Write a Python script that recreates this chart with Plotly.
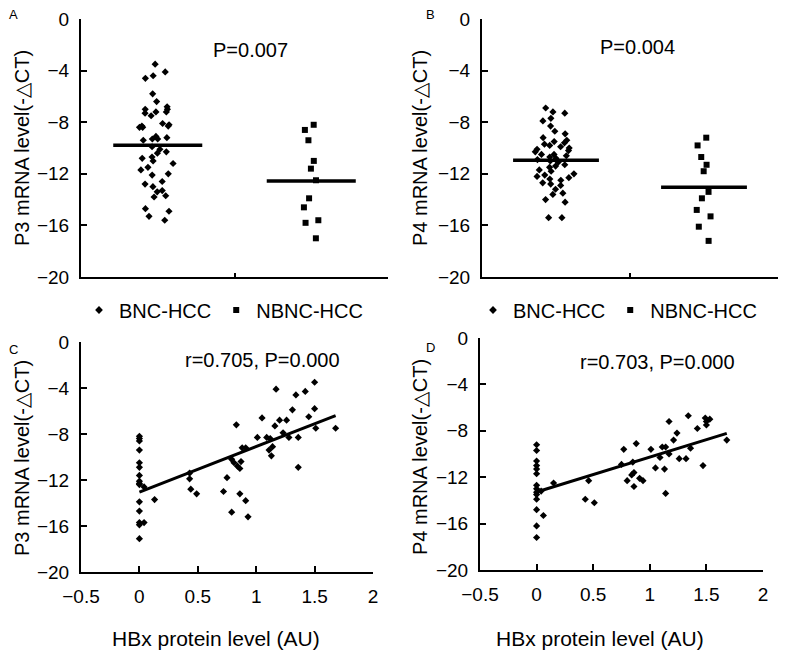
import numpy as np
import plotly.graph_objects as go

# panel A / B: -dCT values per group
p3_bnc = [-3.5, -4.1, -4.4, -4.6, -5.8, -6.4, -6.8, -7.0, -7.0, -7.2, -7.2, -7.3, -7.5,
          -8.1, -8.2, -8.3, -8.3, -8.4, -8.4, -9.1, -9.2, -9.3, -9.3, -9.4, -9.9, -10.1,
          -10.3, -10.4, -10.7, -10.8, -11.0, -11.2, -11.5, -11.7, -12.0, -12.1, -12.6,
          -12.8, -13.0, -13.3, -13.4, -13.7, -13.8, -14.7, -14.9, -15.3, -15.6]
p3_nbnc = [-8.2, -8.6, -9.4, -11.0, -11.6, -12.5, -13.9, -14.6, -15.6, -15.8, -17.0]
p4_bnc = [-6.9, -7.2, -7.3, -7.7, -7.9, -8.3, -8.7, -8.9, -9.2, -9.4, -9.5, -9.6, -9.7,
          -9.8, -9.9, -10.0, -10.1, -10.2, -10.3, -10.5, -10.5, -10.6, -10.7, -10.8, -10.9,
          -11.0, -11.1, -11.3, -11.4, -11.5, -11.7, -11.8, -12.0, -12.1, -12.2, -12.3,
          -12.4, -12.5, -12.7, -12.8, -12.9, -13.2, -13.5, -13.6, -14.0, -14.2, -15.4, -15.4]
p4_nbnc = [-9.2, -9.8, -10.7, -11.3, -11.8, -13.4, -13.9, -14.8, -15.3, -16.1, -17.2]

# panel C: HBx protein vs P3
hbx_c = [0, 0, 0, 0, 0, 0, 0, 0, 0, 0, 0.04, 0, 0, 0, 0.04, 0, 0,
         0.13, 0.43, 0.43, 0.44, 0.49, 0.72, 0.75, 0.79, 0.83, 0.79, 0.81, 0.84, 0.86,
         0.87, 0.86, 0.91, 0.93, 0.88, 0.91, 1.01, 1.05, 1.09, 1.12, 1.11, 1.13, 1.14,
         1.16, 1.17, 1.2, 1.23, 1.26, 1.28, 1.31, 1.34, 1.36, 1.36, 1.42, 1.45, 1.5,
         1.5, 1.51, 1.68]
p3_c = [-8.2, -8.4, -8.6, -9.4, -10.5, -10.9, -11.6, -12.1, -12.3, -12.4, -12.6, -13.9,
        -14.7, -15.7, -15.7, -15.9, -17.1,
        -13.7, -11.4, -11.9, -12.8, -13.2, -13.0, -11.8, -14.8, -7.2, -10.2, -10.5, -10.8,
        -11.0, -10.4, -13.2, -13.8, -15.2, -9.2, -9.2, -8.3, -6.6, -8.3, -8.4, -9.4, -9.9,
        -9.1, -7.3, -4.1, -6.8, -7.9, -6.8, -8.3, -5.9, -4.6, -8.3, -10.9, -4.3, -6.5,
        -3.5, -5.8, -7.5, -7.5]

# panel D: HBx protein vs P4
hbx_d = [0, 0, 0, 0, 0, 0, 0, 0.04, 0, 0, 0, 0, 0, 0.06, 0, 0,
         0.15, 0.46, 0.43, 0.51, 0.75, 0.77, 0.80, 0.84, 0.85, 0.86, 0.88, 0.86, 0.91,
         0.94, 1.01, 1.05, 1.09, 1.11, 1.13, 1.14, 1.14, 1.17, 1.17, 1.21, 1.24, 1.26,
         1.32, 1.34, 1.36, 1.42, 1.47, 1.49, 1.5, 1.53, 1.5, 1.68]
p4_d = [-9.2, -9.7, -10.6, -11.0, -11.3, -11.7, -12.7, -13.2, -13.0, -13.3, -13.5, -13.9,
        -14.8, -15.3, -16.2, -17.2,
        -12.5, -12.3, -13.9, -14.2, -10.9, -9.6, -12.3, -11.8, -10.7, -12.8, -9.1, -11.6,
        -12.1, -12.3, -9.6, -11.2, -10.3, -9.4, -11.3, -13.4, -9.4, -7.2, -10.0, -8.8,
        -8.2, -10.4, -10.4, -6.7, -9.5, -7.8, -11.0, -6.9, -7.2, -7.0, -7.5, -8.8]

FONT = "Arial, Liberation Sans, sans-serif"
BLACK = "black"
W, H = 800, 657
OFF = 8  # page body margin in the browser


def fx(px):
    return (px - OFF) / W


def fy(py):
    return 1 - (py - OFF) / H


fig = go.Figure()


def dots(vals, pos, sym, size, width, xa, ya):
    fig.add_trace(go.Box(
        y=vals, x0=pos, width=width, boxpoints="all", jitter=1, pointpos=0,
        marker=dict(symbol=sym, size=size, color=BLACK),
        line=dict(color="rgba(0,0,0,0)", width=0), fillcolor="rgba(0,0,0,0)",
        whiskerwidth=0, showlegend=False, xaxis=xa, yaxis=ya))
    m = float(np.mean(vals))
    fig.add_trace(go.Scatter(
        x=[pos - 0.29, pos + 0.29], y=[m, m], mode="lines",
        line=dict(color=BLACK, width=3.5), showlegend=False, xaxis=xa, yaxis=ya))


dots(p3_bnc, 0.5, "diamond", 5.5, 0.3, "x", "y")
dots(p3_nbnc, 1.5, "square", 6, 0.12, "x", "y")
dots(p4_bnc, 0.5, "diamond", 5.5, 0.3, "x2", "y2")
dots(p4_nbnc, 1.5, "square", 6, 0.12, "x2", "y2")

# legend-only entries
for lg in ["legend", "legend2"]:
    fig.add_trace(go.Scatter(x=[None], y=[None], mode="markers", name="BNC-HCC",
                             marker=dict(symbol="diamond", size=6, color=BLACK), legend=lg))
    fig.add_trace(go.Scatter(x=[None], y=[None], mode="markers", name="NBNC-HCC",
                             marker=dict(symbol="square", size=6, color=BLACK), legend=lg))


def corr(hx, vals, xa, ya):
    fig.add_trace(go.Scatter(x=hx, y=vals, mode="markers",
                             marker=dict(symbol="diamond", size=5.5, color=BLACK),
                             showlegend=False, xaxis=xa, yaxis=ya))
    k, b = np.polyfit(hx, vals, 1)
    xs = [0, max(hx)]
    fig.add_trace(go.Scatter(x=xs, y=[k * v + b for v in xs], mode="lines",
                             line=dict(color=BLACK, width=3), showlegend=False,
                             xaxis=xa, yaxis=ya))


corr(hbx_c, p3_c, "x3", "y3")
corr(hbx_d, p4_d, "x4", "y4")

yax = dict(range=[-20, 0], dtick=4, showline=True, linecolor=BLACK, linewidth=2,
           ticks="inside", ticklen=6, tickwidth=2, tickcolor=BLACK, showgrid=False,
           zeroline=False, tickfont=dict(size=19, color=BLACK), ticklabelstandoff=6,
           automargin=False)
xcat = dict(range=[0, 2], tickvals=[1, 2], showticklabels=False, showline=True,
            linecolor=BLACK, linewidth=2, ticks="inside", ticklen=4, tickwidth=2,
            tickcolor=BLACK, showgrid=False, zeroline=False, automargin=False)
xnum = dict(range=[-0.5, 2], dtick=0.5, showline=True, linecolor=BLACK, linewidth=2,
            ticks="inside", ticklen=6, tickwidth=2, tickcolor=BLACK, showgrid=False,
            zeroline=False, tickfont=dict(size=19, color=BLACK), ticklabelstandoff=6,
            automargin=False)

fig.update_layout(
    width=W, height=H, margin=dict(l=0, r=0, t=0, b=0, autoexpand=False),
    paper_bgcolor="white", plot_bgcolor="white",
    font=dict(family=FONT, color=BLACK),
    xaxis=dict(xcat, domain=[fx(81), fx(388)], anchor="y"),
    yaxis=dict(yax, domain=[fy(277), fy(19)], anchor="x"),
    xaxis2=dict(xcat, domain=[fx(482), fx(778)], anchor="y2"),
    yaxis2=dict(yax, domain=[fy(277), fy(19)], anchor="x2"),
    xaxis3=dict(xnum, domain=[fx(81), fx(373)], anchor="y3"),
    yaxis3=dict(yax, domain=[fy(572), fy(342)], anchor="x3"),
    xaxis4=dict(xnum, domain=[fx(480), fx(763)], anchor="y4"),
    yaxis4=dict(yax, domain=[fy(570), fy(338)], anchor="x4"),
    legend=dict(orientation="h", x=fx(79), y=fy(310), xanchor="left", yanchor="middle",
                font=dict(size=20), itemwidth=30, bgcolor="rgba(0,0,0,0)"),
    legend2=dict(orientation="h", x=fx(473), y=fy(310), xanchor="left", yanchor="middle",
                 font=dict(size=20), itemwidth=30, bgcolor="rgba(0,0,0,0)"),
)

ann = [
    ("A", 13, 15, 13, 0), ("B", 430, 15, 13, 0), ("C", 13, 349, 13, 0), ("D", 430, 347, 13, 0),
    ("P=0.007", 250, 50, 20, 0), ("P=0.004", 637, 47, 20, 0),
    ("r=0.705, P=0.000", 263, 360, 20, 0), ("r=0.703, P=0.000", 657, 362, 20, 0),
    ("HBx protein level (AU)", 216, 638, 21, 0), ("HBx protein level (AU)", 600, 638, 21, 0),
    ("P3 mRNA level(-△CT)", 22, 148, 20, -90), ("P4 mRNA level(-△CT)", 420, 148, 20, -90),
    ("P3 mRNA level(-△CT)", 22, 458, 20, -90), ("P4 mRNA level(-△CT)", 420, 457, 20, -90),
]
for txt, px, py, sz, ang in ann:
    fig.add_annotation(text=txt, x=fx(px), y=fy(py), xref="paper", yref="paper",
                       showarrow=False, textangle=ang, font=dict(size=sz, color=BLACK),
                       xanchor="center", yanchor="middle")

fig.write_html("out.html")
